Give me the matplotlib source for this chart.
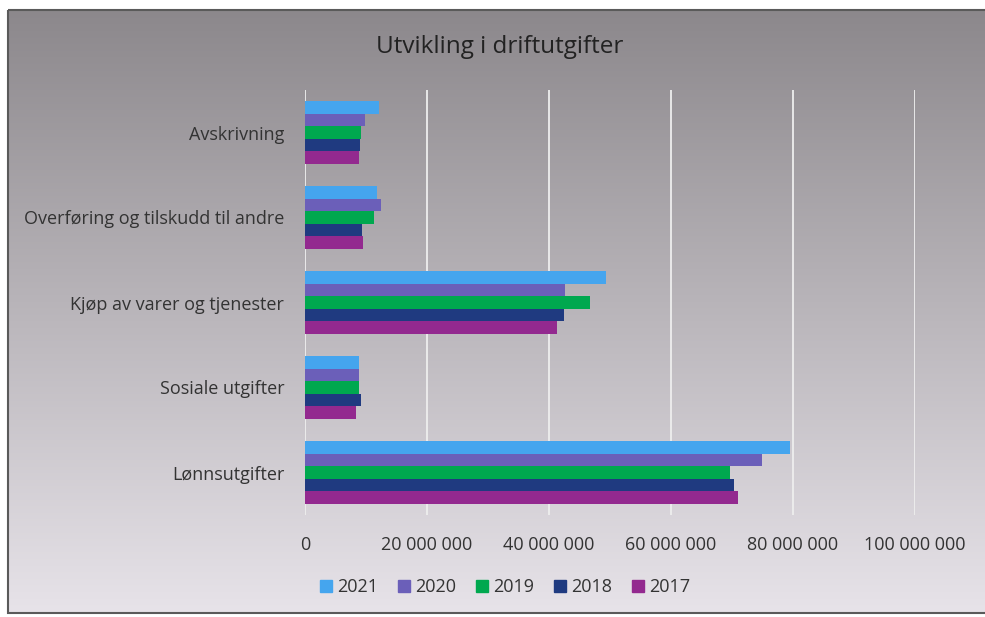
import numpy as np
import matplotlib.pyplot as plt
from matplotlib.patches import Patch, Rectangle
from matplotlib.ticker import FuncFormatter

# Kategorier (ovenfra og ned) og år
categories = ['Avskrivning', 'Overføring og tilskudd til andre',
              'Kjøp av varer og tjenester', 'Sosiale utgifter', 'Lønnsutgifter']
years = ['2021', '2020', '2019', '2018', '2017']

# Verdier i kroner (samme rekkefølge som categories)
v2021 = [12.2e6, 11.8e6, 49.4e6, 8.8e6, 79.5e6]
v2020 = [9.9e6, 12.5e6, 42.7e6, 8.8e6, 74.9e6]
v2019 = [9.1e6, 11.3e6, 46.8e6, 8.8e6, 69.7e6]
v2018 = [9.0e6, 9.3e6, 42.4e6, 9.1e6, 70.4e6]
v2017 = [8.8e6, 9.5e6, 41.3e6, 8.4e6, 71.0e6]
series = [v2021, v2020, v2019, v2018, v2017]
colors = ['#45a5ee', '#6b5fb9', '#00a84f', '#1f3a80', '#93298f']

plt.rcParams['font.family'] = ['Open Sans', 'DejaVu Sans']
txt = '#333333'

fig = plt.figure(figsize=(9.85, 6.17), dpi=100)

# Bakgrunn med gradient og ramme
bg = fig.add_axes([0, 0, 1, 1], zorder=-10)
bg.set_xlim(0, 985)
bg.set_ylim(617, 0)
bg.axis('off')
grad = np.linspace(0, 1, 256).reshape(-1, 1)
top = np.array([0x8c, 0x88, 0x8c]) / 255
bot = np.array([0xe7, 0xe3, 0xe9]) / 255
img = top + (bot - top) * grad[..., None]
img = img.reshape(256, 1, 3)
bg.imshow(img, extent=[8, 990, 613, 10], aspect='auto')
bg.add_patch(Rectangle((8, 10), 1000, 603, fill=False, edgecolor='#5a5a5a', lw=1.5,
                       clip_on=False))

ax = fig.add_axes([305 / 985, 1 - 515 / 617, 610 / 985, 425 / 617])
ax.patch.set_alpha(0)

n = len(categories)
pos = np.arange(n)[::-1]
h = 0.146
for i, (vals, c, yr) in enumerate(zip(series, colors, years)):
    ax.barh(pos + (2 - i) * h, vals, height=h, color=c, label=yr, zorder=3)

ax.set_xlim(0, 100e6)
ax.set_ylim(-0.5, n - 0.5)
ax.set_xticks(np.arange(0, 100e6 + 1, 20e6))
ax.xaxis.set_major_formatter(FuncFormatter(lambda v, p: f'{int(v):,}'.replace(',', ' ')))
ax.set_yticks(pos)
ax.set_yticklabels(categories)
ax.grid(axis='x', color='#eeeeee', lw=1.3, zorder=0)
for s in ax.spines.values():
    s.set_visible(False)
ax.tick_params(axis='both', length=0, labelsize=13, colors=txt)
ax.tick_params(axis='x', pad=15)
ax.tick_params(axis='y', pad=15)

fig.text(500 / 985, 1 - 47 / 617, 'Utvikling i driftutgifter', ha='center', va='center',
         fontsize=17.5, color='#222222')

handles = [Patch(color=c) for c in colors]
fig.legend(handles, years, loc='center', bbox_to_anchor=(505 / 985, 1 - 587 / 617),
           ncol=5, frameon=False, fontsize=13, handlelength=0.65, handleheight=0.65,
           handletextpad=0.3, columnspacing=1.1, labelcolor=txt)

plt.savefig('out.png', dpi=100)
